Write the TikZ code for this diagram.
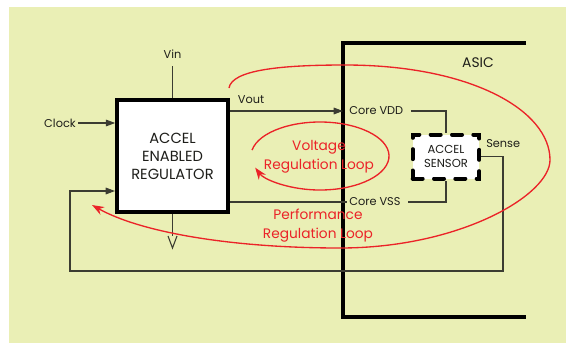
\documentclass[tikz,border=0pt]{standalone}
\usepackage{fontspec}
\setmainfont{Poppins}
\usetikzlibrary{arrows.meta,positioning}
\definecolor{bgyel}{RGB}{234,239,181}
\definecolor{loopred}{RGB}{235,35,40}
\definecolor{ink}{RGB}{30,30,26}
\definecolor{wire}{RGB}{60,60,50}

\begin{document}
\begin{tikzpicture}[x=0.75pt,y=-0.75pt,font=\small,text=ink,
  regbox/.style={draw=black,line width=3pt,fill=white,minimum width=83pt,minimum height=84pt,align=center,font=\fontsize{11}{13.5}\selectfont},
  senbox/.style={draw=black,line width=3pt,dash pattern=on 7.5pt off 8.5pt,line cap=round,fill=white,minimum width=50pt,minimum height=33pt,align=center,font=\fontsize{8.7}{10.5}\selectfont},
  lbl/.style={font=\fontsize{8.5}{10}\selectfont,inner sep=1.5pt},
  redlbl/.style={text=loopred,align=center,font=\fontsize{10.3}{14.25}\selectfont},
  w/.style={draw=wire,line width=0.8pt},
  a/.style={w,-{Triangle[length=7pt,width=5pt]}},
  lp/.style={draw=loopred,line width=1pt,-{Stealth[length=9pt,width=6.5pt]}}]
  \useasboundingbox (0,0) rectangle (566,343);
  \fill[bgyel] (9,7) rectangle (566,343);
  % ASIC outline
  \draw[line width=3pt] (526,43) -- (343,43) -- (343,317) -- (526,317);
  \node[font=\fontsize{10.4}{12}\selectfont] (asic) at (478,63) {ASIC};
  % blocks
  \node[regbox] (reg) at (172.5,156) {ACCEL\\ENABLED\\REGULATOR};
  \node[senbox] (sen) at (446,156.5) {ACCEL\\SENSOR};
  \node[lbl,anchor=west] (vdd) at (347,111) {Core VDD};
  \node[lbl,anchor=west] (vss) at (347,202) {Core VSS};
  \node[lbl,above=28pt of reg.north] (vin) {Vin};
  \node[lbl,anchor=east] (clk) at (78,123) {Clock};
  \node[lbl] (vout) at (251,100) {Vout};
  \node[lbl,anchor=west] (sense) at (484,144) {Sense};
  % wires
  \draw[w] (reg.north) -- ++(0,-32);
  \draw[a] (clk.east) -- (reg.west |- clk);
  \draw[a,shorten >=3pt] (reg.east |- vdd) -- (vdd.west);
  \draw[w] (reg.east |- vss) -- (vss.west);
  \draw[w,shorten <=4pt] (vdd.east) -| (sen.north);
  \draw[w,shorten <=4pt] (vss.east) -| (sen.south);
  \coordinate (fbr) at (503,271);
  \coordinate (fbl) at (70,271);
  \coordinate (fbin) at (115,191);
  \draw[a] (sen.east) -| (fbr) -- (fbl) |- (fbin);
  \draw[w] (reg.south) -- ++(0,22) coordinate (gnd);
  \draw[w] (gnd) ++(-4.5,0) -- ++(4.5,12) -- ++(4.5,-12);
  % loops
  \draw[lp] (320,156) ++(-170:69 and 34) arc[start angle=-170,end angle=160,x radius=69,y radius=34];
  \draw[lp] (229,88) .. controls (232,70) and (280,65) .. (345,65)
    .. controls (470,65) and (550,110) .. (550,160)
    .. controls (550,195) and (460,248) .. (340,248)
    .. controls (230,248) and (140,232) .. (92,205);
  \node[redlbl] (vloop) at (319,156.5) {Voltage\\Regulation Loop};
  \node[redlbl] (ploop) at (318,225.5) {Performance\\Regulation Loop};
\end{tikzpicture}
\end{document}
